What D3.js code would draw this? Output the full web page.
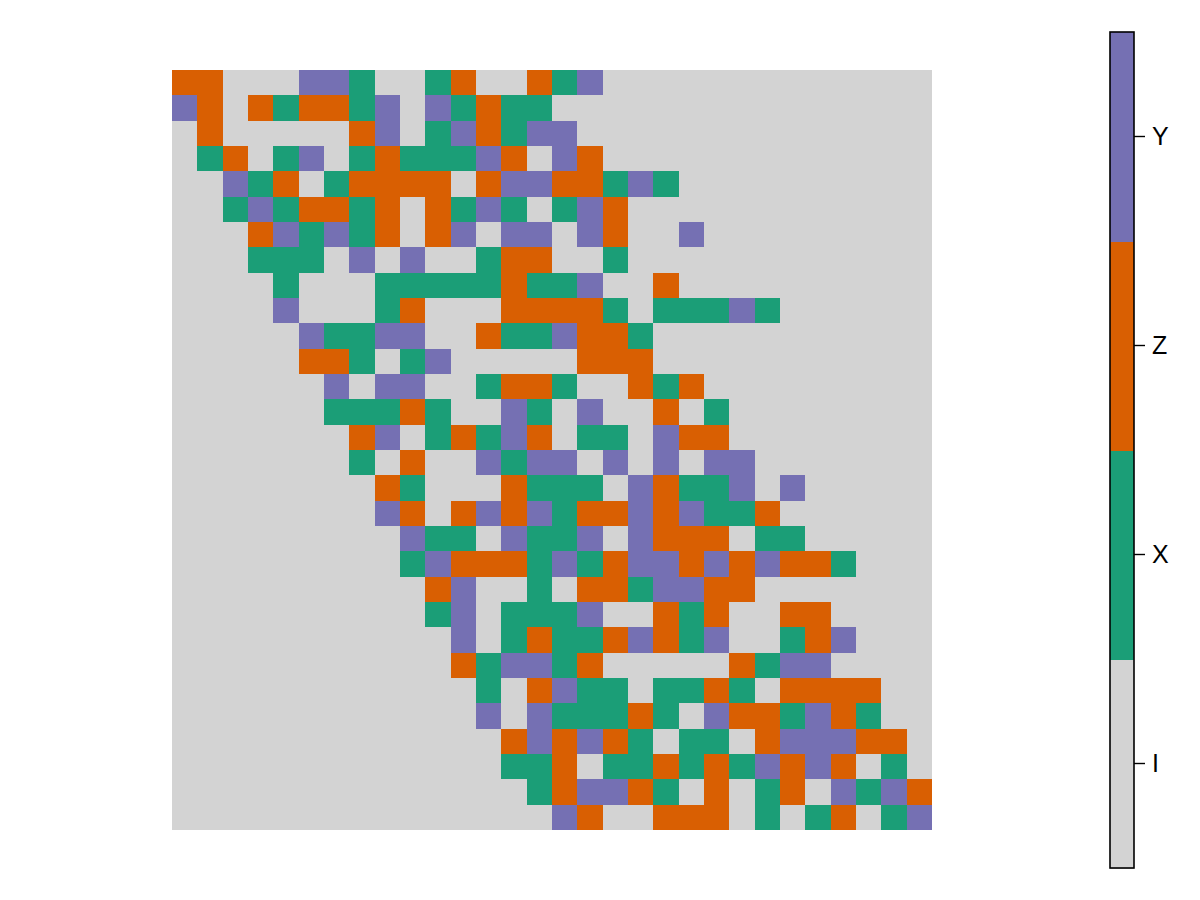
<!DOCTYPE html>
<html>
<head>
<meta charset="utf-8">
<script src="https://cdn.jsdelivr.net/npm/d3@7/dist/d3.min.js"></script>
<style>
  html, body { margin: 0; padding: 0; background: #fff; }
  svg { display: block; }
  text { font-family: "Liberation Sans", Arial, Helvetica, sans-serif; }
</style>
</head>
<body>
<svg id="chart" width="1200" height="900"></svg>
<script>
// Categories (colorbar order from bottom to top)
const categories = ["I", "X", "Z", "Y"];
const categoryColors = ["#d3d3d3", "#1b9e77", "#d95f02", "#7570b3"];

// Grid rows, top to bottom; each character is the category of one column (left to right)
const gridRows = [
  "ZZIIIYYXIIXZIIZXYIIIIIIIIIIIII",
  "YZIZXZZXYIYXZXXIIIIIIIIIIIIIII",
  "IZIIIIIZYIXYZXYYIIIIIIIIIIIIII",
  "IXZIXYIXZXXXYZIYZIIIIIIIIIIIII",
  "IIYXZIXZZZZIZYYZZXYXIIIIIIIIII",
  "IIXYXZZXZIZXYXIXYZIIIIIIIIIIII",
  "IIIZYXYXZIZYIYYIYZIIYIIIIIIIII",
  "IIIXXXIYIYIIXZZIIXIIIIIIIIIIII",
  "IIIIXIIIXXXXXZXXYIIZIIIIIIIIII",
  "IIIIYIIIXZIIIZZZZXIXXXYXIIIIII",
  "IIIIIYXXYYIIZXXYZZXIIIIIIIIIII",
  "IIIIIZZXIXYIIIIIZZZIIIIIIIIIII",
  "IIIIIIYIYYIIXZZXIIZXZIIIIIIIII",
  "IIIIIIXXXZXIIYXIYIIZIXIIIIIIII",
  "IIIIIIIZYIXZXYZIXXIYZZIIIIIIII",
  "IIIIIIIXIZIIYXYYIYIYIYYIIIIIII",
  "IIIIIIIIZXIIIZXXXIYZXXYIYIIIII",
  "IIIIIIIIYZIZYZYXZZYZYXXZIIIIII",
  "IIIIIIIIIYXXIYXXYIYZZZIXXIIIII",
  "IIIIIIIIIXYZZZXYXZYYZYZYZZXIII",
  "IIIIIIIIIIZYIIXIZZXYYZZIIIIIII",
  "IIIIIIIIIIXYIXXXYIIZXZIIZZIIII",
  "IIIIIIIIIIIYIXZXXZYZXYIIXZYIII",
  "IIIIIIIIIIIZXYYXZIIIIIZXYYIIII",
  "IIIIIIIIIIIIXIZYXXIXXZXIZZZZII",
  "IIIIIIIIIIIIYIYXXXZXIYZZXYZXII",
  "IIIIIIIIIIIIIZYZYZXIXXIZYYYZZI",
  "IIIIIIIIIIIIIXXZIXXZXZXYZYZIXI",
  "IIIIIIIIIIIIIIXZYYZXIZIXZIYXYZ",
  "IIIIIIIIIIIIIIIYZIIZZZIXIXZIXY"
];

const nRows = gridRows.length;
const nCols = gridRows[0].length;

const cells = [];
gridRows.forEach((row, r) => {
  row.split("").forEach((c, col) => {
    cells.push({ row: r, col: col, cat: c });
  });
});

const svg = d3.select("#chart");

const color = d3.scaleOrdinal().domain(categories).range(categoryColors);

const x = d3.scaleBand().domain(d3.range(nCols)).range([172, 932]).padding(0);
const y = d3.scaleBand().domain(d3.range(nRows)).range([70, 830]).padding(0);

svg.append("g")
  .attr("shape-rendering", "crispEdges")
  .selectAll("rect")
  .data(cells)
  .join("rect")
  .attr("x", d => x(d.col))
  .attr("y", d => y(d.row))
  .attr("width", x.bandwidth() + 0.4)
  .attr("height", y.bandwidth() + 0.4)
  .attr("fill", d => color(d.cat));

// Colorbar
const cbX = 1110, cbW = 24;
const cbScale = d3.scaleBand().domain(categories.slice().reverse()).range([32, 868]).padding(0);

const cb = svg.append("g");
cb.append("g")
  .attr("shape-rendering", "crispEdges")
  .selectAll("rect")
  .data(categories)
  .join("rect")
  .attr("x", cbX)
  .attr("y", d => cbScale(d))
  .attr("width", cbW)
  .attr("height", cbScale.bandwidth() + 0.5)
  .attr("fill", d => color(d));

cb.append("rect")
  .attr("x", cbX)
  .attr("y", 32)
  .attr("width", cbW)
  .attr("height", 836)
  .attr("fill", "none")
  .attr("stroke", "#000")
  .attr("stroke-width", 1.6);

const axis = d3.axisRight(cbScale).tickSize(11).tickPadding(7);
const axG = svg.append("g")
  .attr("transform", `translate(${cbX + cbW},0)`)
  .call(axis);
axG.select(".domain").remove();
axG.selectAll(".tick line").attr("stroke", "#000").attr("stroke-width", 1.4);
axG.selectAll(".tick text")
  .attr("fill", "#000")
  .style("font-size", "25px")
  .style("font-family", "\"Liberation Sans\", Arial, sans-serif");
</script>
</body>
</html>
